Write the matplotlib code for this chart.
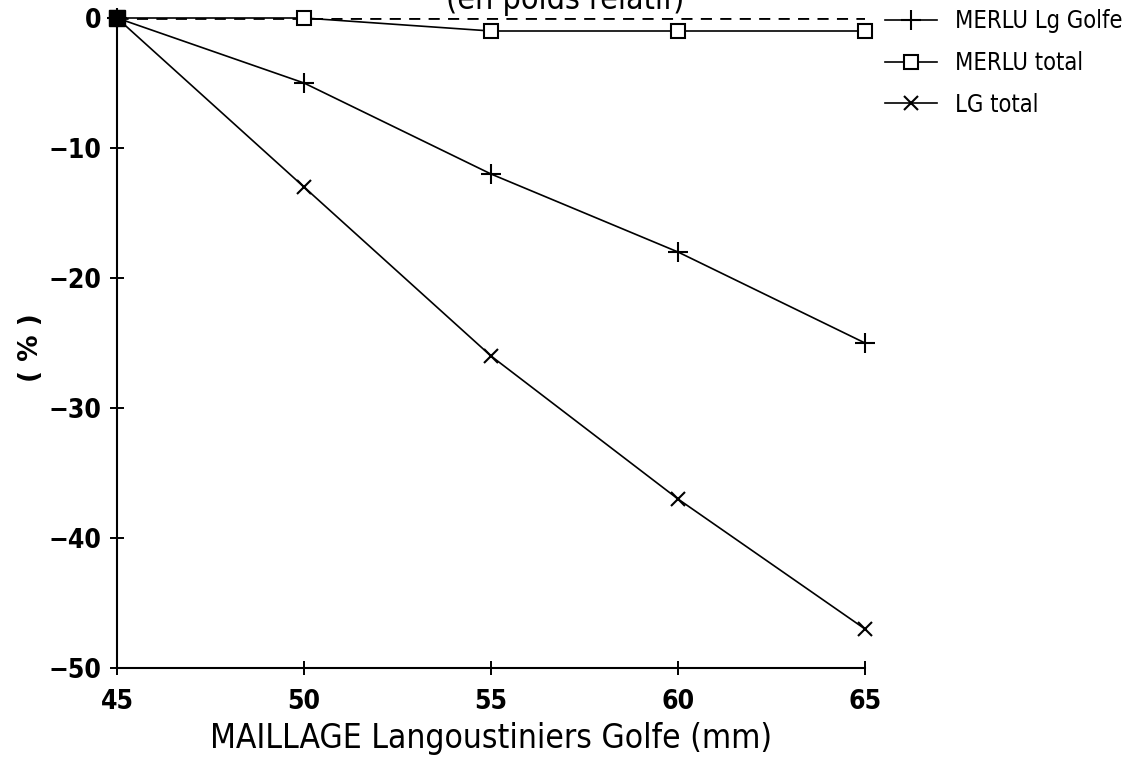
import matplotlib
matplotlib.use("Agg")
import matplotlib.pyplot as plt
from matplotlib.lines import Line2D

maillage = [45, 50, 55, 60, 65]
merlu_lg_golfe = [0, -5, -12, -18, -25]
merlu_total = [0, 0, -1, -1, -1]
lg_total = [0, -13, -26, -37, -47]
x_ticks = [45, 50, 55, 60, 65]
y_ticks = [0, -10, -20, -30, -40, -50]

fig = plt.figure(figsize=(11.44, 7.58), dpi=100)
ax = fig.add_axes([117 / 1144, 1 - 668 / 758, (865 - 117) / 1144, (668 - 18) / 758])

ax.axhline(0, color="black", lw=2.0, ls=(0, (4, 3)), zorder=1)
ax.plot(maillage, merlu_lg_golfe, color="black", lw=1.2, marker="+", ms=15, mew=1.5, clip_on=False)
ax.plot(maillage, merlu_total, color="black", lw=1.2, marker="s", ms=10, mfc="white", mew=1.5, clip_on=False)
ax.plot(maillage, lg_total, color="black", lw=1.2, marker="x", ms=10, mew=1.5, clip_on=False)
ax.plot([45], [0], marker="s", ms=12, color="black", clip_on=False)

ax.set_xlim(45, 65)
ax.set_ylim(-50, 0)
ax.set_xticks(x_ticks)
ax.set_yticks(y_ticks)
ax.set_yticklabels(["0", "\u221210", "\u221220", "\u221230", "\u221240", "\u221250"])
ax.spines["top"].set_visible(False)
ax.spines["right"].set_visible(False)
for s in ("left", "bottom"):
    ax.spines[s].set_linewidth(1.5)
ax.tick_params(direction="inout", length=10, width=1.4, labelsize=19, pad=6)
ax.tick_params(axis="x", pad=10)
for lab in ax.get_xticklabels() + ax.get_yticklabels():
    lab.set_fontweight("bold")
    lab.set_fontstretch("condensed")
ax.set_xlabel("MAILLAGE Langoustiniers Golfe (mm)", fontsize=24,
              fontstretch="condensed", labelpad=5)
fig.text(31 / 1144, 1 - 348 / 758, "( % )", rotation=90, fontsize=19,
         fontweight="bold", ha="center", va="center")
fig.text(565 / 1144, 1.0, "(en poids relatif)", fontsize=23,
         fontstretch="condensed", ha="center", va="center")

handles = [
    Line2D([], [], color="black", lw=1.2, marker="+", ms=15, mew=1.5),
    Line2D([], [], color="black", lw=1.2, marker="s", ms=10, mfc="white", mew=1.5),
    Line2D([], [], color="black", lw=1.2, marker="x", ms=10, mew=1.5),
]
leg = fig.legend(handles, ["MERLU Lg Golfe", "MERLU total", "LG total"],
                 loc="upper left", bbox_to_anchor=(864 / 1144, 1 + 12 / 758),
                 frameon=False, handlelength=2.2, handletextpad=0.75,
                 labelspacing=0.75, prop={"size": 17, "stretch": "condensed"})

fig.savefig("out.png", dpi=100)
